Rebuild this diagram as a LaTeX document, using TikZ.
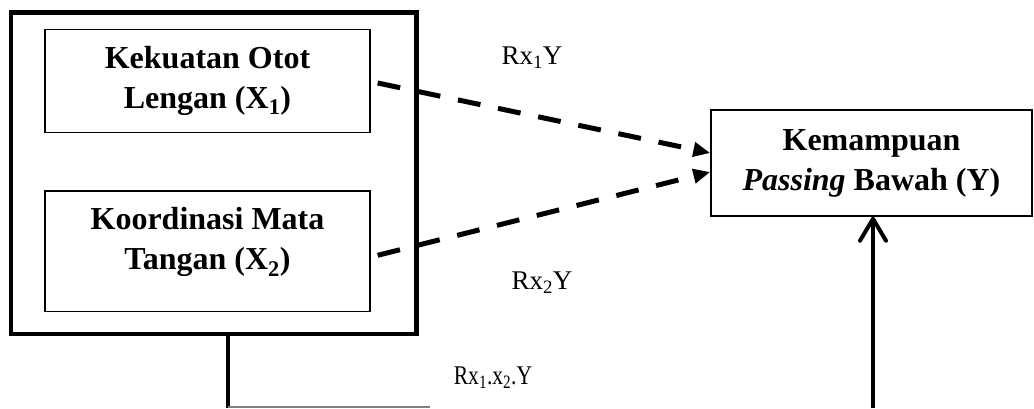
\documentclass[tikz,border=0pt]{standalone}
\usepackage{fontspec}
\setmainfont{Liberation Serif}
\usetikzlibrary{arrows.meta,calc}
\begin{document}
\begin{tikzpicture}[x=1pt,y=-1pt,
  outerbox/.style={draw, line width=4.5pt, inner sep=0pt},
  innerbox/.style={draw, line width=1.3pt, inner sep=0pt, align=center, font=\fontsize{32}{40}\selectfont\bfseries},
  boxtext/.style={inner sep=0pt, align=center, font=\fontsize{32}{40}\selectfont\bfseries},
  lbl/.style={font=\fontsize{27}{32}\selectfont, inner sep=0pt},
  dasharrow/.style={line width=5pt, dash pattern=on 23pt off 18pt, -{Triangle[length=17pt,width=14pt]}},
  conn/.style={line width=4pt},
]
\useasboundingbox (0,0) rectangle (1034,408);
% outer group box
\node[outerbox, minimum width=405.7pt, minimum height=321.5pt] (outer) at (213.6,173.2) {};
% independent variables
\node[innerbox, minimum width=325pt, minimum height=103.4pt] (x1) at (207.5,81) {Kekuatan Otot\\Lengan (X\textsubscript{1})};
\node[innerbox, minimum width=325pt, minimum height=120.7pt] (x2) at (207.5,251.3) {};
\node[boxtext] (x2t) at ($(x2)+(0,-9)$) {Koordinasi Mata\\Tangan (X\textsubscript{2})};
% dependent variable
\node[draw, line width=1.5pt, inner sep=0pt, align=center, minimum width=321pt, minimum height=106pt,
  font=\fontsize{32}{40}\selectfont\bfseries] (Y) at (871.5,163) {Kemampuan\\\textit{Passing} Bawah (Y)};
% dashed arrows
\draw[dasharrow] ($(x1.east)+(7,2)$) -- ($(Y.west)+(0,-10)$);
\draw[dasharrow] ($(x2.east)+(7,4)$) -- ($(Y.west)+(0,9)$);
% bottom connection
\coordinate (b1) at (228,407);
\coordinate (b3) at (430,407);
\coordinate (b2) at (873,408);
\draw[conn] (outer.south -| b1) -- (b1 |- 0,408);
\draw[gray, line width=1.2pt] (b1) -- (b3);
\draw[conn, -{Straight Barb[length=22pt,width=26pt,line cap=round,line join=round]}] (b2) -- (Y.south -| b2);
% labels
\node[lbl] (l1) at (532,58) {Rx\textsubscript{1}Y};
\node[lbl] (l2) at (542,283) {Rx\textsubscript{2}Y};
\node[lbl] (l3) at (493,378) {\scalebox{0.8}[1]{Rx\textsubscript{1}.x\textsubscript{2}.Y}};
\end{tikzpicture}
\end{document}
